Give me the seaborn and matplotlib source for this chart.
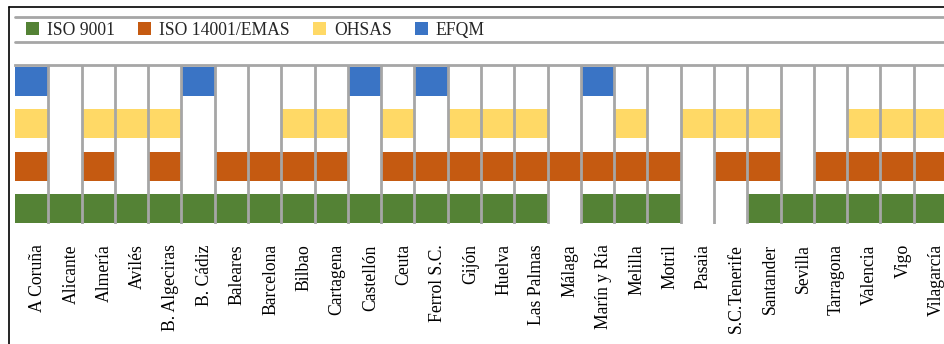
import matplotlib
matplotlib.use("Agg")
import numpy as np
import pandas as pd
import matplotlib.pyplot as plt
import seaborn as sns
from matplotlib.lines import Line2D
from matplotlib.patches import Patch
from matplotlib.transforms import ScaledTranslation

# Ports and certification flags (1 = certified)
ports = ['A Coruña', 'Alicante', 'Almería', 'Avilés', 'B. Algeciras', 'B. Cádiz',
         'Baleares', 'Barcelona', 'Bilbao', 'Cartagena', 'Castellón', 'Ceuta',
         'Ferrol S.C.', 'Gijón', 'Huelva', 'Las Palmas', 'Málaga', 'Marín y Ría',
         'Melilla', 'Motril', 'Pasaia', 'S.C.Tenerife', 'Santander', 'Sevilla',
         'Tarragona', 'Valencia', 'Vigo', 'Vilagarcía']
iso9001 = [1, 1, 1, 1, 1, 1, 1, 1, 1, 1, 1, 1, 1, 1, 1, 1, 0, 1, 1, 1, 0, 0, 1, 1, 1, 1, 1, 1]
iso14001 = [1, 0, 1, 0, 1, 0, 1, 1, 1, 1, 0, 1, 1, 1, 1, 1, 1, 1, 1, 1, 0, 1, 1, 0, 1, 1, 1, 1]
ohsas = [1, 0, 1, 1, 1, 0, 0, 0, 1, 1, 0, 1, 0, 1, 1, 1, 0, 0, 1, 0, 1, 1, 1, 0, 0, 1, 1, 1]
efqm = [1, 0, 0, 0, 0, 1, 0, 0, 0, 0, 1, 0, 1, 0, 0, 0, 0, 1, 0, 0, 0, 0, 0, 0, 0, 0, 0, 0]

series = ['ISO 9001', 'ISO 14001/EMAS', 'OHSAS', 'EFQM']
colors = ['#548235', '#C55A11', '#FFD966', '#3A74C5']

df = pd.DataFrame({'port': ports, 'ISO 9001': iso9001, 'ISO 14001/EMAS': iso14001,
                   'OHSAS': ohsas, 'EFQM': efqm})

sns.set_theme(style="white")
plt.rcParams['font.family'] = ['Liberation Serif', 'DejaVu Serif']

grey = '#a6a6a6'
fig = plt.figure(figsize=(9.45, 3.44), dpi=100)
ax = fig.add_axes([15 / 945, 1 - 224 / 344, 932 / 945, (224 - 64.5) / 344])

bar_h = 0.685
# one row of blocks per certification
for row, (name, col) in enumerate(zip(series, colors)):
    sns.barplot(x=df['port'], y=df[name] * bar_h, bottom=row - bar_h / 2,
                color=col, saturation=1, width=1.0, errorbar=None, linewidth=0, ax=ax)

n = len(ports)
ax.set_xlim(-0.5, n - 0.5)
ax.set_ylim(-0.366, 3.402)
ax.set_xlabel('')
ax.set_ylabel('')
ax.set_yticks([])

# gridlines between categories, labels at centres
ax.set_xticks(np.arange(0.5, n, 1))
ax.set_xticklabels([])
ax.set_xticks(np.arange(n), minor=True)
ax.set_xticklabels(ports, minor=True, rotation=90, fontsize=12.7)
ax.tick_params(axis='x', which='major', length=6.5, width=2.0, color=grey, direction='out')
ax.tick_params(axis='x', which='minor', length=0, pad=14.5, colors='black')
off = ScaledTranslation(6 / 100, 0, fig.dpi_scale_trans)
for lab in ax.get_xticklabels(minor=True):
    lab.set_transform(lab.get_transform() + off)

ax.grid(axis='x', which='major', color=grey, linewidth=2.0)
ax.set_axisbelow(False)
for s in ['left', 'right', 'bottom']:
    ax.spines[s].set_visible(False)
ax.spines['top'].set_color(grey)
ax.spines['top'].set_linewidth(2.0)

# legend strip
handles = [Patch(facecolor=c, edgecolor='none', label=l) for l, c in zip(series, colors)]
fig.legend(handles=handles, loc='center left', bbox_to_anchor=(26 / 945, 1 - 30.5 / 344),
           ncol=4, frameon=False, fontsize=12.7, handlelength=0.75, handleheight=0.75,
           handletextpad=0.45, columnspacing=1.3, borderaxespad=0, borderpad=0)
for yy in [17, 42]:
    fig.add_artist(Line2D([15 / 945, 1], [1 - yy / 344] * 2, color=grey, lw=2.0,
                          transform=fig.transFigure))

# outer frame (left and top edges)
fig.add_artist(Line2D([9 / 945, 9 / 945], [1 - 7 / 344, 0], color='black', lw=1.2,
                      transform=fig.transFigure))
fig.add_artist(Line2D([9 / 945, 1], [1 - 7 / 344] * 2, color='black', lw=1.2,
                      transform=fig.transFigure))

fig.savefig('out.png', dpi=100)
